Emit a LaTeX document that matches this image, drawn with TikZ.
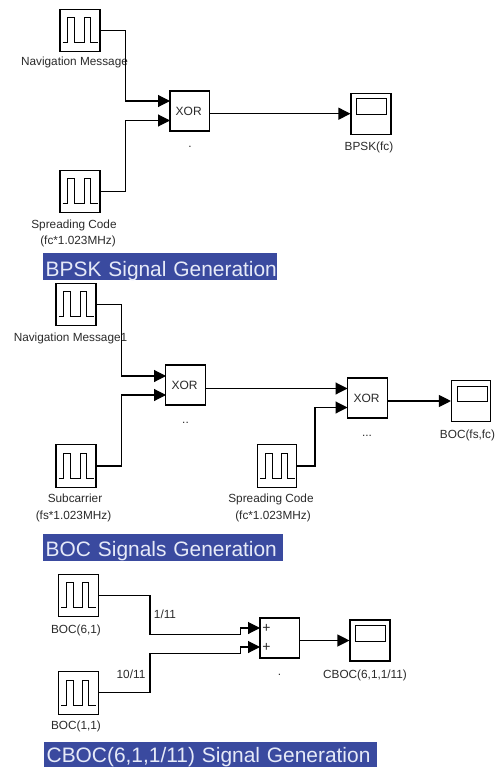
\documentclass[tikz,border=0pt]{standalone}
\usepackage{fontspec}
\setmainfont{Liberation Sans}
\usetikzlibrary{arrows.meta}
\definecolor{titlebg}{HTML}{3A4A9F}
\definecolor{titlefg}{HTML}{E6EAF8}
\definecolor{inktext}{HTML}{2A2A2A}
\newcommand{\xortext}{\raisebox{-2pt}{\hspace*{-2pt}XOR}}
\tikzset{
  x=1pt,y=-1pt,
  block/.style={draw=black,line width=1.1pt,rectangle,inner sep=0pt,fill=white,minimum width=#1},
  block/.default=40pt,
  pulseblock/.style={block,minimum height=42.5pt,path picture={
    \draw[line width=0.9pt]
      ([xshift=2.5pt,yshift=-33.5pt]path picture bounding box.north west)
      -- ++(5,0) -- ++(0,-25) -- ++(7,0) -- ++(0,25) -- ++(9.5,0) -- ++(0,-25) -- ++(6,0) -- ++(0,25) -- ++(7.5,0);
  }},
  scopeblock/.style={block,minimum height=41pt,path picture={
    \draw[line width=0.9pt]
      ([xshift=5.7pt,yshift=-5.5pt]path picture bounding box.north west) rectangle ++(30,15.5);
  }},
  opblock/.style={block=39.5pt,minimum height=40pt,font=\fontsize{12}{13}\selectfont,text=inktext},
  lab/.style={font=\fontsize{11.8}{13}\selectfont,text=inktext,inner sep=0pt,text height=8.5pt,text depth=2.5pt},
  plusmark/.style={lab,font=\fontsize{14}{14}\selectfont},
  titlebar/.style n args={2}{fill=titlebg,text=titlefg,font=\fontsize{20.9}{24}\selectfont,inner xsep=2.5pt,inner ysep=0pt,align=left,text height=#1,text depth=#2,anchor=west},
  wire/.style={line width=1.1pt,-{Triangle[length=12pt,width=12pt]}},
}
\begin{document}
\begin{tikzpicture}
\useasboundingbox (0,0) rectangle (497,767);
% --- BPSK
\node[pulseblock] (p1) at (80,30.5) {};
\node[pulseblock] (p2) at (80,191.5) {};
\node[opblock] (x1) at (189.7,111) {\xortext};
\node[scopeblock] (s1) at (371,113.7) {};
\coordinate (x1a) at (170,101);
\coordinate (x1b) at (170,120.5);
\node[lab] (l1) at (74.5,63) {Navigation Message};
\node[lab] (l2) at (74,225) {Spreading Code};
\node[lab] (l3) at (78,241.5) {(fc*1.023MHz)};
\node[lab] (l4) at (369,148) {BPSK(fc)};
\node[lab] (d1) at (190,145) {.};
\draw[wire] (p1.east) -- (125.7,30.5) |- (x1a);
\draw[wire] (p2.east) -- (125.7,191.5) |- (x1b);
\draw[wire] (x1.east |- s1) -- (s1.west);
\node[titlebar={23pt}{4pt},text width=229pt] (t1) at (43,266.5) {\mbox{BPSK Signal Generation}};
% --- BOC
\node[pulseblock] (p3) at (76,304.5) {};
\node[pulseblock] (p4) at (76,466) {};
\node[pulseblock,block=39pt] (p5) at (277,466) {};
\node[opblock] (x2) at (185.5,385) {\xortext};
\node[opblock,block=40pt] (x3) at (367.5,398) {\xortext};
\node[scopeblock,block=39pt] (s2) at (471,401) {};
\coordinate (x2a) at (166,376);
\coordinate (x2b) at (166,395);
\coordinate (x3a) at (347.5,388.5);
\coordinate (x3b) at (347.5,407.5);
\node[lab] (l5) at (70.5,338) {Navigation Message1};
\node[lab] (l6) at (75,499) {Subcarrier};
\node[lab] (l7) at (73.5,516) {(fs*1.023MHz)};
\node[lab] (l8) at (271,499) {Spreading Code};
\node[lab] (l9) at (273,516) {(fc*1.023MHz)};
\node[lab] (l10) at (467.5,435) {BOC(fs,fc)};
\node[lab] (d2) at (185.5,420) {..};
\node[lab] (d3) at (367,433) {...};
\draw[wire] (p3.east) -- (121.5,304.5) |- (x2a);
\draw[wire] (p4.east) -- (121.5,466) |- (x2b);
\draw[wire] (x2.east |- x3a) -- (x3a);
\draw[wire] (p5.east) -- (315,466) |- (x3b);
\draw[wire] (x3.east |- s2) -- (s2.west);
\node[titlebar={22.7pt}{4.3pt},text width=235pt] (t2) at (43,547.5) {\mbox{BOC Signals Generation}};
% --- CBOC
\node[pulseblock] (p6) at (78.7,595.5) {};
\node[pulseblock] (p7) at (78.7,692.8) {};
\node[opblock] (x4) at (279.7,638) {};
\node[scopeblock] (s3) at (370,640.5) {};
\coordinate (x4a) at (260,628);
\coordinate (x4b) at (260,647);
\node[plusmark] (pl1) at (266.5,629.5) {+};
\node[plusmark] (pl2) at (266.5,648.5) {+};
\node[lab] (l11) at (76,630) {BOC(6,1)};
\node[lab] (l12) at (76,726) {BOC(1,1)};
\node[lab] (l13) at (365,675.5) {CBOC(6,1,1/11)};
\node[lab] (l14) at (165,615.5) {1/11};
\node[lab] (l15) at (131,675) {10/11};
\node[lab] (d4) at (279.5,672) {.};
\draw[wire] (p6.east) -- (150,595.5) -- (150,634.7) -- (240.5,634.7) -- (240.5,628) -- (x4a);
\draw[wire] (p7.east) -- (150,692.8) -- (150,653.5) -- (240.5,653.5) -- (240.5,647) -- (x4b);
\draw[wire] (x4.east |- s3) -- (s3.west);
\node[titlebar={20.6pt}{4.4pt},text width=328pt] (t3) at (44,754.2) {\mbox{CBOC(6,1,1/11) Signal Generation}};
\end{tikzpicture}
\end{document}
